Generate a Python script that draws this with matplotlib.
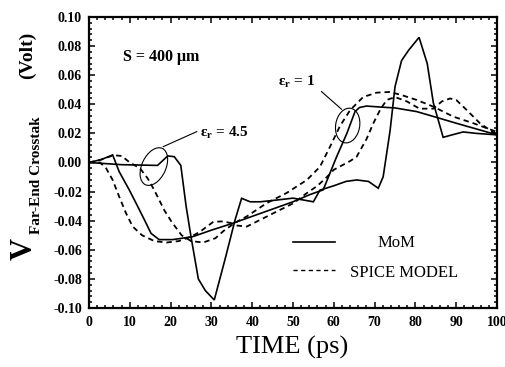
import matplotlib
matplotlib.use("Agg")
import matplotlib.pyplot as plt
from matplotlib.patches import Ellipse
from matplotlib.lines import Line2D
from matplotlib.transforms import ScaledTranslation
from matplotlib.ticker import MultipleLocator, FormatStrFormatter

plt.rcParams['font.family'] = ['Liberation Serif', 'DejaVu Serif']
plt.rcParams['mathtext.fontset'] = 'custom'
plt.rcParams['mathtext.rm'] = 'Liberation Serif'
plt.rcParams['mathtext.it'] = 'Liberation Serif'
plt.rcParams['mathtext.bf'] = 'Liberation Serif:bold'
plt.rcParams['mathtext.default'] = 'regular'
plt.rcParams['axes.unicode_minus'] = False

# ---- data ----
t_mom1 = [0, 3, 5.8, 7.4, 9.9, 11.9, 13.6, 15.2, 17.2, 20.5, 25.4, 30, 35, 40, 45, 50,
          54.2, 57.4, 60.7, 63.2, 65.2, 66.3, 68, 72, 75, 80.3, 85.2, 90, 95, 100]
v_mom1 = [0, 0.002, 0.0052, -0.0063, -0.019, -0.030, -0.0395, -0.0487, -0.053, -0.053,
          -0.051, -0.0465, -0.042, -0.037, -0.032, -0.027, -0.022, -0.0188, 0.004, 0.020,
          0.035, 0.0378, 0.0388, 0.038, 0.0375, 0.035, 0.031, 0.027, 0.023, 0.019]

t_mom45 = [0, 8, 16.8, 19.3, 20.9, 22.5, 23.8, 25, 26.8, 28.5, 30.7, 33.3, 35.8, 37.4,
           39.5, 42, 46, 50, 53, 55, 56.6, 60, 63, 65.6, 68.5, 70.9, 72.1, 73.8, 75,
           76.6, 78.3, 80.9, 82.9, 84.4, 86.8, 89, 91.7, 95, 100]
v_mom45 = [0, -0.0015, -0.002, 0.0045, 0.004, -0.002, -0.030, -0.051, -0.080, -0.088,
           -0.0945, -0.067, -0.0395, -0.0246, -0.027, -0.027, -0.0258, -0.0245, -0.026,
           -0.027, -0.019, -0.016, -0.013, -0.012, -0.013, -0.0177, -0.0098, 0.022, 0.052,
           0.070, 0.077, 0.086, 0.068, 0.041, 0.0173, 0.019, 0.021, 0.020, 0.019]

t_sp1 = [0, 2.7, 4.2, 5.8, 7.4, 9.1, 10.7, 13, 16, 19, 22, 25, 27.2, 30.5, 32.9, 35.4,
         38.7, 43.5, 48.4, 53.4, 56.6, 59.1, 61.5, 64, 67.2, 70.5, 73.8, 77, 80.3, 84.4,
         89.3, 94.2, 100]
v_sp1 = [0, 0, -0.004, -0.012, -0.0235, -0.035, -0.044, -0.050, -0.054, -0.055, -0.054,
         -0.051, -0.0476, -0.0407, -0.0405, -0.042, -0.037, -0.028, -0.021, -0.012, -0.003,
         0.011, 0.025, 0.036, 0.045, 0.048, 0.0485, 0.046, 0.043, 0.0384, 0.0315, 0.027,
         0.021]

t_sp45 = [0, 3, 6, 8, 10, 12.5, 14.4, 16, 18.5, 20.3, 22.7, 25, 28, 31, 33, 35, 38.7,
          41.9, 46.8, 50.1, 53.4, 56, 58.3, 60, 62, 64, 65.6, 68, 69.7, 71.5, 73, 75,
          77.9, 81, 84.4, 86.5, 88.5, 90, 92.6, 95.8, 100]
v_sp45 = [0, 0.002, 0.005, 0.0045, 0.0, -0.004, -0.011, -0.019, -0.033, -0.041, -0.050,
          -0.054, -0.055, -0.052, -0.047, -0.043, -0.044, -0.0395, -0.0326, -0.028, -0.021,
          -0.016, -0.010, -0.005, -0.002, 0.001, 0.004, 0.016, 0.027, 0.037, 0.043, 0.045,
          0.042, 0.037, 0.037, 0.042, 0.044, 0.043, 0.036, 0.027, 0.019]

x_ticks = list(range(0, 101, 10))
y_ticks = [-0.10, -0.08, -0.06, -0.04, -0.02, 0.00, 0.02, 0.04, 0.06, 0.08, 0.10]

W, H = 505, 367
fig = plt.figure(figsize=(W / 100, H / 100), dpi=100)
ax = fig.add_axes([89 / W, 1 - 308 / H, 408 / W, 291 / H])

solid_kw = dict(color='black', lw=1.2, solid_joinstyle='miter')
dash_kw = dict(color='black', lw=1.3, linestyle=(0, (3.0, 2.2)))

ax.plot(t_mom1, v_mom1, **solid_kw)
ax.plot(t_mom45, v_mom45, **solid_kw)
ax.plot(t_sp1, v_sp1, **dash_kw)
ax.plot(t_sp45, v_sp45, **dash_kw)

ax.set_xlim(0, 100)
ax.set_ylim(-0.10, 0.10)
ax.set_xticks(x_ticks)
ax.set_yticks(y_ticks)
ax.yaxis.set_major_formatter(FormatStrFormatter('%.2f'))
ax.xaxis.set_minor_locator(MultipleLocator(2))
ax.yaxis.set_minor_locator(MultipleLocator(0.004))
ax.tick_params(which='both', direction='in', top=True, right=True, width=1.1)
ax.tick_params(which='major', length=4)
ax.tick_params(which='minor', length=2.2)
ax.tick_params(axis='x', pad=6)
ax.tick_params(axis='y', pad=5)
for lab in ax.get_xticklabels() + ax.get_yticklabels():
    lab.set_fontsize(10)
    lab.set_fontweight('bold')
for s in ax.spines.values():
    s.set_linewidth(1.6)

# axis titles
fig.text(292 / W, 1 - 347 / H, 'TIME (ps)', ha='center', va='center', fontsize=19)
fig.text(24 / W, 1 - 249 / H, 'V', ha='center', va='center', fontsize=22,
         fontweight='bold', rotation=90)
fig.text(36 / W, 1 - 175 / H, 'Far-End Crosstak', ha='center', va='center',
         fontsize=11, fontweight='bold', rotation=90)
fig.text(27 / W, 1 - 55 / H, '(Volt)', ha='center', va='center', fontsize=14,
         fontweight='bold', rotation=90)

# annotations
ax.text(17.6, 0.0725, 'S = 400 μm', ha='center', va='center', fontsize=11.5,
        fontweight='bold')
ax.text(27.2, 0.0205, 'ε$_\\mathbf{r}$ = 4.5', ha='left', va='center', fontsize=11,
        fontweight='bold')
ax.text(46.3, 0.0553, 'ε$_\\mathbf{r}$ = 1', ha='left', va='center', fontsize=11,
        fontweight='bold')

ax.plot([18.2, 26.4], [0.0109, 0.0212], color='black', lw=0.8)
ax.plot([57.0, 61.9], [0.0487, 0.0366], color='black', lw=0.8)


def add_ellipse(cx, cy, w_px, h_px, angle):
    tr = fig.dpi_scale_trans + ScaledTranslation(cx, cy, ax.transData)
    e = Ellipse((0, 0), w_px / 100, h_px / 100, angle=angle, fill=False,
                edgecolor='black', lw=0.8, transform=tr)
    ax.add_patch(e)


add_ellipse(15.9, -0.0028, 40, 24, 65)
add_ellipse(63.4, 0.0254, 35, 24, 80)

# legend
ax.add_line(Line2D([0.50, 0.603], [0.227, 0.227], transform=ax.transAxes, **solid_kw))
ax.add_line(Line2D([0.50, 0.603], [0.131, 0.131], transform=ax.transAxes,
                   color='black', lw=1.0, linestyle=(0, (3.0, 2.5))))
ax.text(0.708, 0.225, 'MoM', transform=ax.transAxes, ha='left', va='center', fontsize=12)
ax.text(0.640, 0.120, 'SPICE MODEL', transform=ax.transAxes, ha='left', va='center',
        fontsize=12)

fig.savefig('out.png', dpi=100)
